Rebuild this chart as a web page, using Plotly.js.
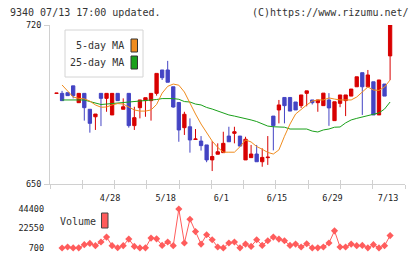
<!DOCTYPE html>
<html>
<head>
<meta charset="utf-8">
<script src="https://cdn.plot.ly/plotly-3.0.1.min.js"></script>
<style>
  html, body { margin: 0; padding: 0; background: #fff; }
  #chart { width: 420px; height: 259px; }
</style>
</head>
<body>
<div id="chart"></div>
<script>
// Daily trading days, 2020
const dates = [
  '4/14','4/15','4/16','4/17','4/20','4/21','4/22','4/23','4/24','4/27',
  '4/28','4/30','5/1','5/7','5/8','5/11','5/12','5/13','5/14','5/15',
  '5/18','5/19','5/20','5/21','5/22','5/25','5/26','5/27','5/28','5/29',
  '6/1','6/2','6/3','6/4','6/5','6/8','6/9','6/10','6/11','6/12',
  '6/15','6/16','6/17','6/18','6/19','6/22','6/23','6/24','6/25','6/26',
  '6/29','6/30','7/1','7/2','7/3','7/6','7/7','7/8','7/9','7/10',
  '7/13'
];

const open = [
  689.9, 689.9, 690.2, 693.2, 685.8, 689.9, 682.9, 679.6, 689.9, 687.7,
  680.4, 689.9, 682.9, 689.9, 675.7, 683.6, 686.7, 686.7, 689.9, 700.2,
  700.2, 692.8, 685.9, 674.8, 675.2, 669.6, 668.9, 667.2, 660.6, 663.1,
  663.8, 671.1, 672.3, 671.1, 660.6, 661.6, 663.2, 659.8, 661.6, 679.9,
  682.6, 688.1, 688.1, 686.1, 684.5, 689.9, 687.0, 685.8, 684.5, 687.0,
  677.9, 685.5, 686.7, 688.7, 692.8, 699.0, 692.8, 695.0, 680.4, 694.0,
  706.4
];
const high = [
  690.0, 691.0, 690.2, 693.2, 689.9, 689.9, 682.9, 680.8, 689.9, 689.9,
  689.9, 689.9, 687.7, 689.9, 684.0, 687.0, 688.0, 689.9, 698.7, 700.2,
  704.2, 692.8, 685.9, 681.8, 678.9, 674.2, 671.1, 667.2, 668.9, 667.9,
  673.0, 675.2, 675.2, 671.1, 670.8, 667.2, 667.2, 665.7, 671.1, 679.9,
  687.0, 688.1, 688.1, 686.1, 689.2, 691.0, 687.0, 687.0, 690.0, 690.0,
  686.2, 689.2, 689.2, 691.8, 697.2, 699.0, 700.2, 695.0, 695.8, 694.0,
  720.0
];
const low = [
  689.9, 686.7, 688.9, 687.7, 685.8, 677.9, 672.6, 673.8, 675.5, 681.8,
  680.4, 686.7, 682.9, 674.8, 673.8, 678.9, 679.6, 677.9, 688.9, 695.8,
  694.8, 683.6, 668.6, 671.6, 663.8, 669.6, 664.7, 659.6, 655.7, 663.1,
  663.8, 668.6, 667.9, 666.7, 660.6, 661.6, 659.8, 657.6, 658.4, 664.8,
  676.7, 676.7, 682.1, 682.6, 683.5, 684.2, 685.0, 681.8, 684.5, 675.6,
  677.9, 683.8, 679.9, 688.7, 692.8, 680.4, 692.8, 680.4, 680.4, 688.7,
  695.8
];
const close = [
  690.0, 686.7, 688.9, 688.9, 689.9, 683.6, 676.7, 680.8, 687.7, 689.9,
  689.9, 686.7, 684.0, 675.7, 679.2, 687.0, 688.0, 689.9, 698.7, 696.8,
  694.8, 683.9, 673.8, 680.7, 669.4, 669.8, 666.9, 660.6, 662.1, 664.2,
  667.9, 668.6, 673.0, 666.7, 669.7, 663.2, 659.8, 661.7, 661.8, 675.7,
  684.8, 684.5, 682.1, 682.6, 689.2, 691.0, 685.8, 687.0, 690.0, 683.5,
  686.2, 689.2, 689.2, 691.8, 697.2, 692.8, 698.0, 680.4, 695.8, 688.7,
  720.0
];

// Moving averages as drawn (first day has no value)
const ma5 = [
  null, 693.6, 691.0, 688.3, 687.7, 687.5, 686.5, 684.8, 683.8, 683.9,
  684.8, 685.4, 685.2, 684.0, 682.6, 682.1, 682.1, 682.6, 685.0, 690.0,
  693.0, 694.0, 693.5, 690.5, 685.4, 680.8, 676.4, 672.5, 668.9, 666.1,
  664.0, 664.0, 664.0, 666.4, 669.4, 668.5, 666.5, 665.3, 663.9, 663.2,
  665.0, 671.0, 676.4, 680.8, 683.0, 684.8, 686.5, 687.0, 687.0, 687.9,
  687.4, 687.0, 687.0, 687.0, 688.3, 690.7, 692.7, 691.4, 691.2, 692.7,
  695.8
];
const ma25 = [
  null, 687.0, 687.0, 687.0, 687.0, 687.0, 686.3, 685.7, 685.0, 685.2,
  685.4, 685.9, 686.1, 686.3, 686.3, 686.5, 686.8, 687.0, 687.2, 687.6,
  687.7, 687.6, 687.3, 686.3, 686.1, 685.2, 684.8, 683.7, 683.0, 682.1,
  681.3, 680.4, 679.9, 679.4, 678.8, 678.2, 677.5, 676.4, 675.5, 675.2,
  675.1, 675.0, 674.2, 674.2, 674.2, 674.2, 673.3, 672.9, 673.8, 674.2,
  675.0, 675.1, 676.9, 678.2, 678.9, 679.5, 679.9, 680.8, 681.3, 683.0,
  686.1
];

const volume = [
  null, 700, 1800, 800, 900, 4400, 5800, 3300, 7400, 12900,
  3300, 1000, 3300, 10700, 2500, 800, 900, 11800, 11000, 3600,
  7400, 3300, 44400, 6300, 32900, 19100, 5100, 15500, 9900, 1800,
  800, 6300, 7400, 900, 5100, 2500, 9900, 3600, 8800, 12900,
  10700, 8800, 3600, 5100, 1800, 5500, 800, 900, 1800, 6300,
  19900, 1800, 1800, 5100, 3300, 3600, 900, 4400, 800, 3300,
  14600
];

const priceTicks = [650, 720];
const volumeTicks = [700, 22550, 44400];
const dateTicks = ['4/28', '5/18', '6/1', '6/15', '6/29', '7/13'];

// ---- page geometry (pixels) ----
const W = 420, H = 259;
const M = { l: 50, r: 15, t: 25, b: 11 };
const plotW = W - M.l - M.r;
const plotH = H - M.t - M.b;
const px = x => (x - M.l) / plotW;
const py = y => (H - M.b - y) / plotH;

const xRange = [-1.17, 62.68];
const gray = '#d0d0d0';
const mono = 'DejaVu Sans Mono, monospace';

// equal divisions along the price axis baseline
const divisions = Array.from({ length: 12 }, (_, k) => k);

const traces = [
  {
    type: 'candlestick',
    x: dates, open: open, high: high, low: low, close: close,
    xaxis: 'x', yaxis: 'y',
    line: { width: 1 },
    whiskerwidth: 0,
    increasing: { line: { color: '#d80000', width: 1 }, fillcolor: '#d80000' },
    decreasing: { line: { color: '#4444c4', width: 1 }, fillcolor: '#4444c4' },
    hoverinfo: 'skip'
  },
  {
    type: 'scatter', mode: 'lines', x: dates, y: ma25,
    xaxis: 'x', yaxis: 'y',
    line: { color: '#1aa01a', width: 1 }, hoverinfo: 'skip'
  },
  {
    type: 'scatter', mode: 'lines', x: dates, y: ma5,
    xaxis: 'x', yaxis: 'y',
    line: { color: '#f08c1e', width: 1 }, hoverinfo: 'skip'
  },
  {
    type: 'scatter', mode: 'lines+markers', x: dates, y: volume,
    xaxis: 'x2', yaxis: 'y2',
    line: { color: '#ff5c5c', width: 1 },
    marker: { symbol: 'diamond', size: 5.5, color: '#ff5c5c' },
    cliponaxis: false, hoverinfo: 'skip'
  },
  // empty traces that register the tick-only overlay axes
  { type: 'scatter', mode: 'markers', x: [null], y: [null], xaxis: 'x3', yaxis: 'y', hoverinfo: 'skip' },
  { type: 'scatter', mode: 'markers', x: [null], y: [null], xaxis: 'x4', yaxis: 'y', hoverinfo: 'skip' },
  { type: 'scatter', mode: 'markers', x: [null], y: [null], xaxis: 'x', yaxis: 'y3', hoverinfo: 'skip' }
];

const tickAxisBase = {
  overlaying: 'x', anchor: 'y', range: [0, 11], type: 'linear',
  tickmode: 'array', tickvals: divisions,
  ticklen: 4, tickwidth: 1, tickcolor: gray,
  showticklabels: false, showgrid: false, zeroline: false, showline: false,
  fixedrange: true
};

const layout = {
  width: W, height: H,
  margin: M,
  paper_bgcolor: '#fff', plot_bgcolor: '#fff',
  showlegend: false,
  boxgap: 0.15,
  font: { family: mono, size: 8.5, color: '#222' },
  xaxis: {
    type: 'category', range: xRange, anchor: 'y',
    rangeslider: { visible: false },
    showline: true, linecolor: gray, linewidth: 1,
    ticks: '', tickmode: 'array', tickvals: dateTicks, ticktext: dateTicks,
    ticklabelstandoff: 6, ticklabelshift: -2,
    showgrid: false, zeroline: false, fixedrange: true
  },
  yaxis: {
    domain: [py(184), 1], range: [650, 720], anchor: 'x',
    tickmode: 'array', tickvals: priceTicks,
    ticks: 'outside', ticklen: 5, tickwidth: 1, tickcolor: gray,
    ticklabelstandoff: 1,
    showline: true, linecolor: gray, linewidth: 1,
    showgrid: false, zeroline: false, fixedrange: true
  },
  xaxis3: Object.assign({}, tickAxisBase, { ticks: 'inside' }),
  xaxis4: Object.assign({}, tickAxisBase, { ticks: 'outside' }),
  yaxis3: {
    overlaying: 'y', anchor: 'x', range: [650, 720], type: 'linear',
    tickmode: 'array', tickvals: priceTicks,
    ticks: 'inside', ticklen: 3, tickwidth: 1, tickcolor: gray,
    showticklabels: false, showgrid: false, zeroline: false, showline: false,
    fixedrange: true
  },
  xaxis2: {
    type: 'category', range: xRange, anchor: 'y2', visible: false, fixedrange: true
  },
  yaxis2: {
    domain: [0, py(209)], range: [700, 44400], anchor: 'x2',
    tickmode: 'array', tickvals: volumeTicks, ticktext: volumeTicks.map(String),
    ticks: '', ticklabelstandoff: 5,
    showline: false, showgrid: false, zeroline: false, fixedrange: true
  },
  shapes: [
    // moving-average legend box
    { type: 'rect', xref: 'paper', yref: 'paper',
      x0: px(65), x1: px(143), y0: py(77), y1: py(30),
      line: { color: '#d4d4d4', width: 1 }, fillcolor: '#fff', layer: 'above' },
    { type: 'rect', xref: 'paper', yref: 'paper',
      x0: px(131), x1: px(137.5), y0: py(52), y1: py(39),
      line: { color: '#333', width: 1 }, fillcolor: '#f08c1e', layer: 'above' },
    { type: 'rect', xref: 'paper', yref: 'paper',
      x0: px(131), x1: px(137.5), y0: py(69), y1: py(56),
      line: { color: '#333', width: 1 }, fillcolor: '#1aa01a', layer: 'above' },
    // volume legend swatch
    { type: 'rect', xref: 'paper', yref: 'paper',
      x0: px(101.5), x1: px(108), y0: py(228), y1: py(213),
      line: { color: '#444', width: 1 }, fillcolor: '#ff5c5c', layer: 'above' }
  ],
  annotations: [
    { xref: 'paper', yref: 'paper', x: px(8), y: py(12.5), xanchor: 'left', yanchor: 'middle',
      text: '9340 07/13 17:00 updated.', showarrow: false,
      font: { family: mono, size: 10, color: '#333' } },
    { xref: 'paper', yref: 'paper', x: px(411), y: py(12.5), xanchor: 'right', yanchor: 'middle',
      text: '(C)https://www.rizumu.net/', showarrow: false,
      font: { family: mono, size: 10, color: '#333' } },
    { xref: 'paper', yref: 'paper', x: px(126), y: py(45.5), xanchor: 'right', yanchor: 'middle',
      text: '5-day MA', showarrow: false,
      font: { family: mono, size: 10, color: '#333' } },
    { xref: 'paper', yref: 'paper', x: px(126), y: py(62.5), xanchor: 'right', yanchor: 'middle',
      text: '25-day MA', showarrow: false,
      font: { family: mono, size: 10, color: '#333' } },
    { xref: 'paper', yref: 'paper', x: px(58), y: py(221.5), xanchor: 'left', yanchor: 'middle',
      text: 'Volume', showarrow: false,
      font: { family: mono, size: 10, color: '#333' } }
  ]
};

Plotly.newPlot('chart', traces, layout, { staticPlot: true, displayModeBar: false });
</script>
</body>
</html>
